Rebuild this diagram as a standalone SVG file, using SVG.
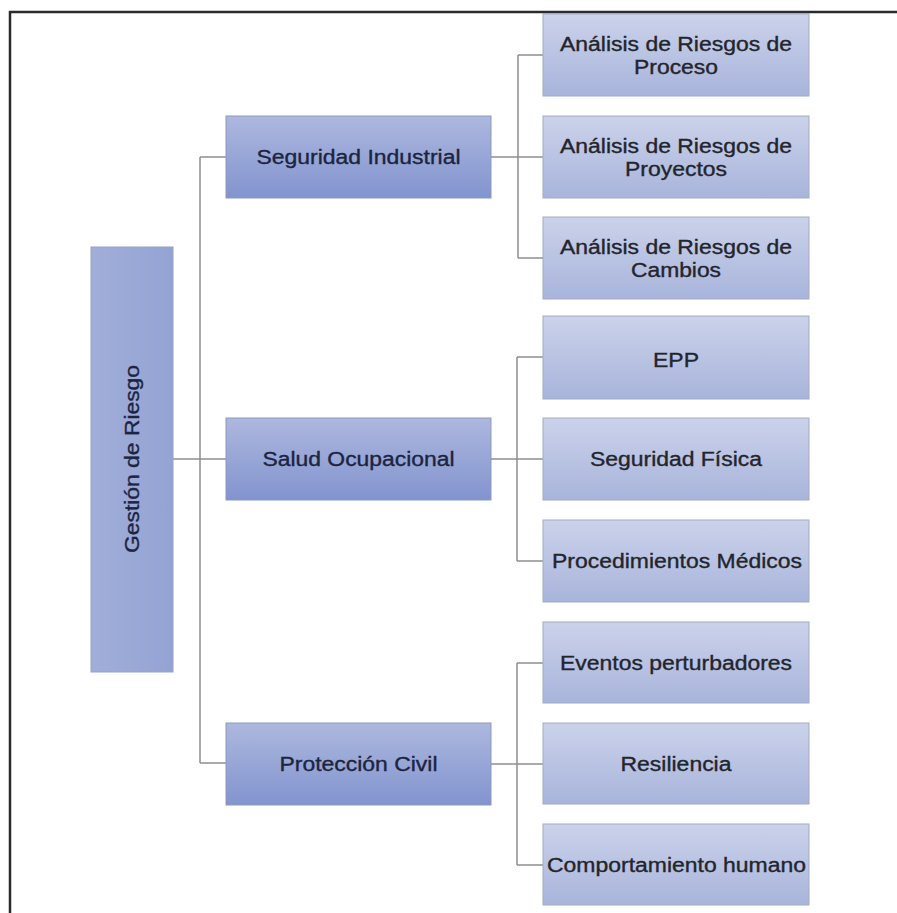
<svg xmlns="http://www.w3.org/2000/svg" width="897" height="913" viewBox="0 0 897 913">
<defs>
<linearGradient id="gL1" x1="0" y1="0" x2="0" y2="1">
<stop offset="0" stop-color="#adb8de"/>
<stop offset="1" stop-color="#8294cf"/>
</linearGradient>
<linearGradient id="gL2" x1="0" y1="0" x2="0" y2="1">
<stop offset="0" stop-color="#cbd2ea"/>
<stop offset="1" stop-color="#a8b4db"/>
</linearGradient>
<linearGradient id="gRoot" x1="0" y1="0" x2="1" y2="0">
<stop offset="0" stop-color="#a2aed9"/>
<stop offset="1" stop-color="#93a3d4"/>
</linearGradient>
<style>
.l1{fill:url(#gL1);stroke:#8d98bb;stroke-width:1}
.l2{fill:url(#gL2);stroke:#a3abc2;stroke-width:1}
.root{fill:url(#gRoot);stroke:#97a3c8;stroke-width:1}
text{font-family:"Liberation Sans",Arial,sans-serif;font-size:20px;text-anchor:middle}
.t1{fill:#1c2440;stroke:#1c2440;stroke-width:0.35}
.t2{fill:#23252c;stroke:#23252c;stroke-width:0.35}
.conn{fill:none;stroke:#8f8f93;stroke-width:1.5}
.frame{fill:none;stroke:#2b2b2b;stroke-width:2.5}
</style>
</defs>
<rect width="897" height="913" fill="#ffffff"/>
<g id="connectors">
<path class="conn" d="M173,459 H226 M200,157 V763 M200,157 H226 M200,763 H226"/>
<path class="conn" d="M491,157 H518 M518,55 V258 M518,55 H543 M518,157 H543 M518,258 H543"/>
<path class="conn" d="M491,459 H517 M517,357 V561 M517,357 H543 M517,459 H543 M517,561 H543"/>
<path class="conn" d="M491,764 H517 M517,663 V865 M517,663 H543 M517,764 H543 M517,865 H543"/>
</g>
<g id="root">
<rect class="root" x="91" y="247" width="82" height="425"/>
<text class="t1" transform="translate(139,459) rotate(-90)" x="0" y="0" textLength="188" lengthAdjust="spacingAndGlyphs">Gestión de Riesgo</text>
</g>
<g id="seguridad-industrial">
<rect class="l1" x="226" y="116" width="265" height="82"/>
<text class="t1" x="358.5" y="164" textLength="204" lengthAdjust="spacingAndGlyphs">Seguridad Industrial</text>
</g>
<g id="salud-ocupacional">
<rect class="l1" x="226" y="418" width="265" height="82"/>
<text class="t1" x="358.5" y="466" textLength="192" lengthAdjust="spacingAndGlyphs">Salud Ocupacional</text>
</g>
<g id="proteccion-civil">
<rect class="l1" x="226" y="723" width="265" height="82"/>
<text class="t1" x="358.5" y="771" textLength="158" lengthAdjust="spacingAndGlyphs">Protección Civil</text>
</g>
<g id="riesgos-proceso">
<rect class="l2" x="543" y="14" width="266" height="82"/>
<text class="t2" x="676" y="51" textLength="232" lengthAdjust="spacingAndGlyphs">Análisis de Riesgos de</text>
<text class="t2" x="676" y="74" textLength="84" lengthAdjust="spacingAndGlyphs">Proceso</text>
</g>
<g id="riesgos-proyectos">
<rect class="l2" x="543" y="116" width="266" height="82"/>
<text class="t2" x="676" y="153" textLength="232" lengthAdjust="spacingAndGlyphs">Análisis de Riesgos de</text>
<text class="t2" x="676" y="176" textLength="102" lengthAdjust="spacingAndGlyphs">Proyectos</text>
</g>
<g id="riesgos-cambios">
<rect class="l2" x="543" y="217" width="266" height="82"/>
<text class="t2" x="676" y="254" textLength="232" lengthAdjust="spacingAndGlyphs">Análisis de Riesgos de</text>
<text class="t2" x="676" y="277" textLength="90" lengthAdjust="spacingAndGlyphs">Cambios</text>
</g>
<g id="epp">
<rect class="l2" x="543" y="316" width="266" height="83"/>
<text class="t2" x="676" y="367" textLength="46" lengthAdjust="spacingAndGlyphs">EPP</text>
</g>
<g id="seguridad-fisica">
<rect class="l2" x="543" y="418" width="266" height="82"/>
<text class="t2" x="676" y="466" textLength="172" lengthAdjust="spacingAndGlyphs">Seguridad Física</text>
</g>
<g id="procedimientos-medicos">
<rect class="l2" x="543" y="520" width="266" height="82"/>
<text class="t2" x="677" y="568" textLength="250" lengthAdjust="spacingAndGlyphs">Procedimientos Médicos</text>
</g>
<g id="eventos-perturbadores">
<rect class="l2" x="543" y="622" width="266" height="81"/>
<text class="t2" x="676" y="670" textLength="232" lengthAdjust="spacingAndGlyphs">Eventos perturbadores</text>
</g>
<g id="resiliencia">
<rect class="l2" x="543" y="723" width="266" height="81"/>
<text class="t2" x="676" y="771" textLength="111" lengthAdjust="spacingAndGlyphs">Resiliencia</text>
</g>
<g id="comportamiento-humano">
<rect class="l2" x="543" y="824" width="266" height="81"/>
<text class="t2" x="676.5" y="872" textLength="259" lengthAdjust="spacingAndGlyphs">Comportamiento humano</text>
</g>
<path class="frame" d="M10,913 V12 H897"/>
</svg>
